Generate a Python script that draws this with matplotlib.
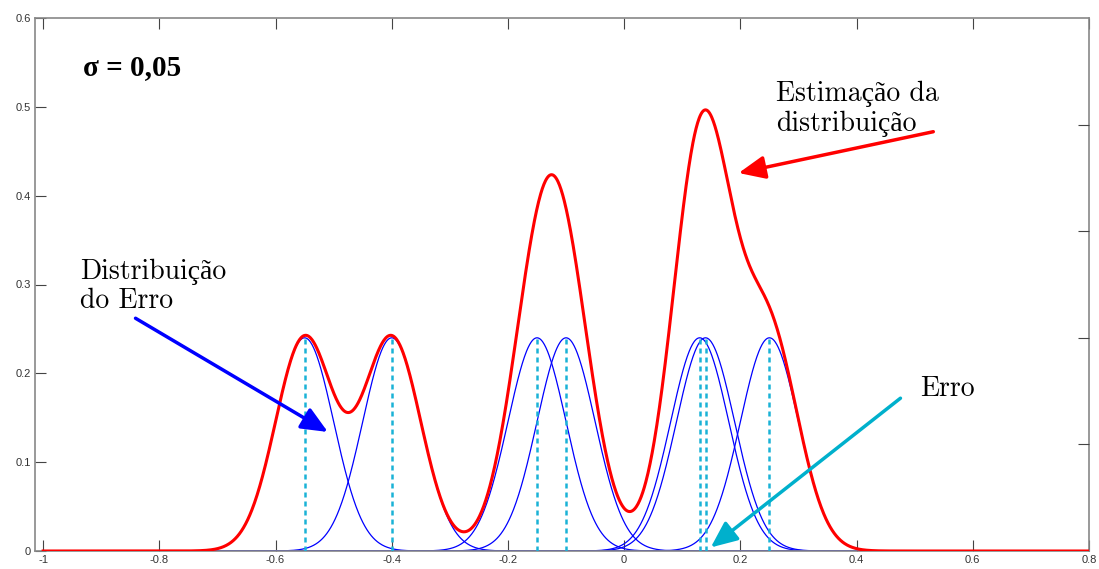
import numpy as np
import matplotlib
matplotlib.use('Agg')
from matplotlib import pyplot as plt

# pontos observados (centros dos nucleos) e largura
centros = [-0.55, -0.40, -0.15, -0.10, 0.13, 0.14, 0.25]
sigma = 0.05
pico = 0.24
xlim = (-1.014, 0.8)
xticks = [-1, -0.8, -0.6, -0.4, -0.2, 0, 0.2, 0.4, 0.6, 0.8]
xticklabels = ['-1', '-0.8', '-0.6', '-0.4', '-0.2', '0', '0.2', '0.4', '0.6', '0.8']
yticks = [0, 0.1, 0.2, 0.3, 0.4, 0.5, 0.6]
yticklabels = ['0', '0.1', '0.2', '0.3', '0.4', '0.5', '0.6']
yticks_dir = [0.1, 0.2, 0.3, 0.4]

plt.rcParams['font.family'] = ['cmr10', 'Liberation Serif']
plt.rcParams['axes.formatter.use_mathtext'] = True

x = np.linspace(-1, 0.8, 2000)

fig = plt.figure(figsize=(10.99, 5.69), dpi=100)
ax = fig.add_axes([35/1099, 18/569, (1089-35)/1099, (551-18)/569])

total = np.zeros_like(x)
for c in centros:
    g = pico*np.exp(-0.5*((x-c)/sigma)**2)
    total += g
    ax.plot(x, g, color='#0000ff', lw=0.9, zorder=2)
    ax.plot([c, c], [0, pico], color='#1ab2d6', lw=1.8, linestyle=(0, (2, 1.6)), zorder=3)
ax.plot(x, total, color='#ff0000', lw=2.2, zorder=4)

ax.set_xlim(*xlim)
ax.set_ylim(0, 0.6)
ax.set_xticks(xticks)
ax.set_xticklabels(xticklabels, family='Liberation Sans', fontsize=8, color='#333333')
ax.set_yticks(yticks)
ax.set_yticklabels(yticklabels, family='Liberation Sans', fontsize=8, color='#333333')
ax.tick_params(direction='in', length=8, width=0.8, color='#444444', top=True, right=False, pad=3)
for s in ax.spines.values():
    s.set_color('#888888')
    s.set_linewidth(1.2)

ax2 = ax.twinx()
ax2.set_ylim(0, 0.5)
ax2.set_yticks(yticks_dir)
ax2.set_yticklabels([])
ax2.tick_params(direction='in', length=8, width=0.8, color='#444444')
for s in ax2.spines.values():
    s.set_visible(False)

ax.text(-0.932, 0.544, 'σ = 0,05', fontsize=21, fontweight='bold', family='Liberation Serif',
        va='center', ha='left')
ax.text(0.262, 0.529, 'Estimação da\ndistribuição', fontsize=20, va='top', ha='left', linespacing=1.15)
ax.text(-0.936, 0.329, 'Distribuição\ndo Erro', fontsize=20, va='top', ha='left', linespacing=1.15)
ax.text(0.51, 0.183, 'Erro', fontsize=20, va='center', ha='left')

seta = '-|>,head_length=0.8,head_width=0.35'
ax.annotate('', xy=(-0.510, 0.134), xytext=(-0.841, 0.262),
            arrowprops=dict(arrowstyle=seta, color='#0000ff', lw=2.5, mutation_scale=20,
                            shrinkA=0, shrinkB=0), zorder=6)
ax.annotate('', xy=(0.197, 0.4255), xytext=(0.532, 0.472),
            arrowprops=dict(arrowstyle=seta, color='#ff0000', lw=2.5, mutation_scale=20,
                            shrinkA=0, shrinkB=0), zorder=6)
ax.annotate('', xy=(0.149, 0.004), xytext=(0.4755, 0.172),
            arrowprops=dict(arrowstyle=seta, color='#00b0cc', lw=2.5, mutation_scale=20,
                            shrinkA=0, shrinkB=0), zorder=6)

plt.savefig('out.png', dpi=100)
